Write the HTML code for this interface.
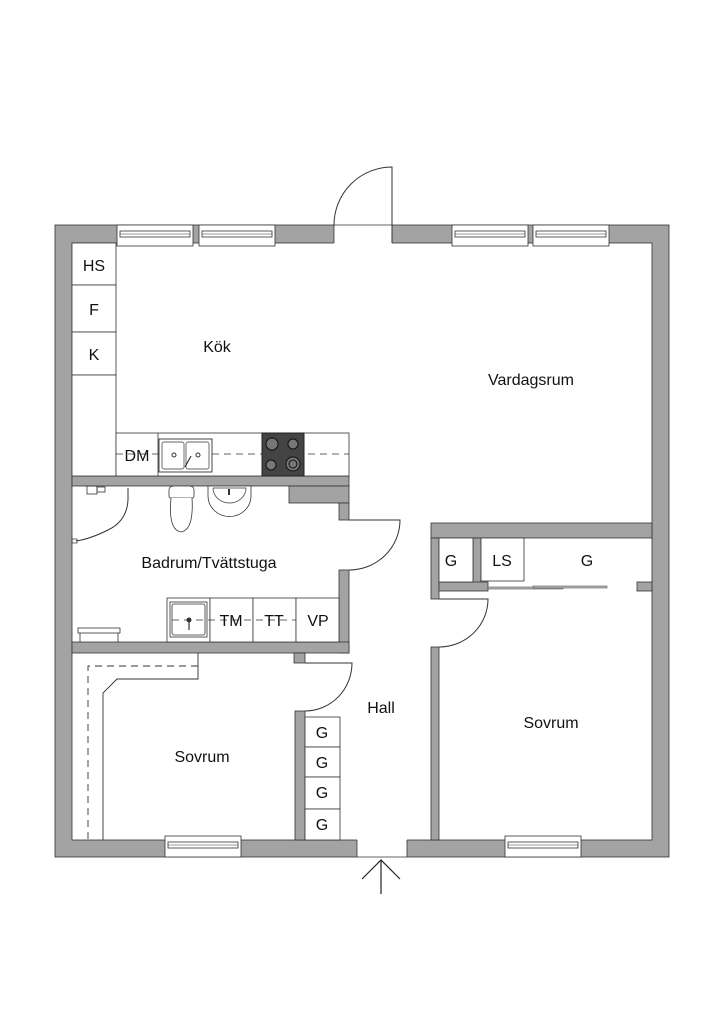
<!DOCTYPE html>
<html><head><meta charset="utf-8"><style>
html,body{margin:0;padding:0;background:#fff;}
svg{display:block;}
text{font-family:"Liberation Sans",sans-serif;fill:#111;}
</style></head><body>
<svg width="724" height="1024" viewBox="0 0 724 1024" xmlns="http://www.w3.org/2000/svg">
<defs>
<g id="win">
<rect x="0" y="0" width="76" height="21" fill="#fff" stroke="#333" stroke-width="0.8"/>
<rect x="3" y="6" width="70" height="6" fill="#fff" stroke="#333" stroke-width="0.8"/>
<line x1="3" y1="9" x2="73" y2="9" stroke="#333" stroke-width="0.6"/>
</g>
</defs>
<!-- outer walls -->
<rect x="55" y="225" width="614" height="632" fill="#a3a3a3" stroke="#333" stroke-width="0.8"/>
<rect x="72" y="243" width="580" height="597" fill="#fff" stroke="#333" stroke-width="0.8"/>
<!-- openings -->
<rect x="334" y="224" width="58" height="20" fill="#fff"/>
<line x1="334" y1="225" x2="392" y2="225" stroke="#333" stroke-width="0.8"/>
<line x1="334" y1="225" x2="334" y2="243" stroke="#333" stroke-width="0.8"/>
<line x1="392" y1="225" x2="392" y2="243" stroke="#333" stroke-width="0.8"/>
<rect x="357" y="839" width="50" height="19" fill="#fff"/>
<line x1="357" y1="857" x2="407" y2="857" stroke="#333" stroke-width="0.8"/>
<line x1="357" y1="840" x2="357" y2="857" stroke="#333" stroke-width="0.8"/>
<line x1="407" y1="840" x2="407" y2="857" stroke="#333" stroke-width="0.8"/>
<!-- entrance door -->
<path d="M392 243 L392 167 A58 58 0 0 0 334 225" fill="none" stroke="#333" stroke-width="1"/>
<!-- windows -->
<use href="#win" x="117" y="225"/>
<use href="#win" x="199" y="225"/>
<use href="#win" x="452" y="225"/>
<use href="#win" x="533" y="225"/>
<use href="#win" x="165" y="836"/>
<use href="#win" x="505" y="836"/>
<!-- interior walls -->
<g fill="#a3a3a3" stroke="#333" stroke-width="0.8">
<rect x="72" y="476" width="277" height="10"/>
<rect x="289" y="486" width="60" height="17"/>
<rect x="339" y="503" width="10" height="17"/>
<rect x="339" y="570" width="10" height="83"/>
<rect x="72" y="642" width="277" height="11"/>
<rect x="294" y="653" width="11" height="10"/>
<rect x="295" y="711" width="10" height="129"/>
<rect x="431" y="523" width="221" height="15"/>
<rect x="431" y="538" width="8" height="61"/>
<rect x="473" y="538" width="8" height="52"/>
<rect x="439" y="582" width="49" height="9"/>
<rect x="637" y="582" width="15" height="9"/>
<rect x="431" y="647" width="8" height="193"/>
</g>
<!-- kitchen storage column -->
<g fill="#fff" stroke="#333" stroke-width="0.8">
<rect x="72" y="243" width="44" height="42"/>
<rect x="72" y="285" width="44" height="47"/>
<rect x="72" y="332" width="44" height="43"/>
<rect x="72" y="375" width="44" height="101"/>
<rect x="116" y="433" width="233" height="43"/>
<line x1="158" y1="433" x2="158" y2="476"/>
</g>
<line x1="116" y1="454" x2="349" y2="454" stroke="#333" stroke-width="0.8" stroke-dasharray="7,5"/>
<!-- sink -->
<rect x="159" y="439" width="53" height="33" fill="#fff" stroke="#333" stroke-width="0.9"/>
<rect x="162" y="442" width="22" height="27" rx="2" fill="#fff" stroke="#333" stroke-width="0.7"/>
<rect x="186" y="442" width="23" height="27" rx="2" fill="#fff" stroke="#333" stroke-width="0.7"/>
<circle cx="174" cy="455" r="2" fill="none" stroke="#333"/>
<circle cx="198" cy="455" r="2" fill="none" stroke="#333"/>
<line x1="185" y1="467" x2="191" y2="456" stroke="#333" stroke-width="1.2"/>
<!-- stove -->
<rect x="262" y="433" width="42" height="43" fill="#444" stroke="#222"/>
<g fill="#777" stroke="#111" stroke-width="1">
<circle cx="272" cy="444" r="6"/><circle cx="293" cy="444" r="5"/>
<circle cx="271" cy="465" r="5"/><circle cx="293" cy="464" r="7"/>
</g>
<circle cx="293" cy="464" r="4" fill="none" stroke="#111"/>
<!-- bathroom fixtures -->
<path d="M169 490 Q169 486 174 486 L189 486 Q194 486 194 490 L194 496 Q194 498 192 498 L171 498 Q169 498 169 496 Z" fill="#fff" stroke="#333" stroke-width="0.8"/>
<path d="M171 498 Q168 530 181 532 Q194 530 192 498" fill="#fff" stroke="#333" stroke-width="0.8"/>
<path d="M208 486 L251 486 L251 496 A21 20 0 0 1 208 496 Z" fill="#fff" stroke="#333" stroke-width="0.8"/>
<path d="M213 488 L246 488 A16.5 15 0 0 1 213 488" fill="none" stroke="#333" stroke-width="0.7"/>
<rect x="228" y="489" width="2" height="6" fill="#333"/>
<path d="M128 488 L128 495 Q129 520 108 530 Q90 539 76 541" fill="none" stroke="#333" stroke-width="1"/>
<rect x="87" y="486" width="10" height="8" fill="none" stroke="#333" stroke-width="0.8"/>
<rect x="97" y="487" width="8" height="5" fill="none" stroke="#333" stroke-width="0.8"/>
<rect x="72" y="539" width="5" height="4" fill="none" stroke="#333" stroke-width="0.7"/>
<rect x="78" y="628" width="42" height="5" fill="#fff" stroke="#333" stroke-width="0.8"/>
<line x1="80" y1="633" x2="80" y2="642" stroke="#333" stroke-width="0.8"/>
<line x1="118" y1="633" x2="118" y2="642" stroke="#333" stroke-width="0.8"/>
<g fill="#fff" stroke="#333" stroke-width="0.8">
<rect x="167" y="598" width="43" height="44"/>
<rect x="210" y="598" width="43" height="44"/>
<rect x="253" y="598" width="43" height="44"/>
<rect x="296" y="598" width="43" height="44"/>
<rect x="170" y="602" width="37" height="35"/>
<rect x="172" y="604" width="33" height="31" rx="2"/>
</g>
<line x1="172" y1="620" x2="296" y2="620" stroke="#333" stroke-width="0.8" stroke-dasharray="7,5"/>
<circle cx="189" cy="620" r="2.5" fill="#333"/>
<line x1="189" y1="620" x2="189" y2="630" stroke="#333" stroke-width="1.2"/>
<!-- doors -->
<g fill="none" stroke="#333" stroke-width="1">
<path d="M349 520 L400 520 A51 50 0 0 1 349 570"/>
<path d="M305 663 L352 663 A47 48 0 0 1 305 711"/>
<path d="M439 599 L488 599 A49 48 0 0 1 439 647"/>
</g>
<!-- hall closets -->
<g fill="#fff" stroke="#333" stroke-width="0.8">
<rect x="305" y="717" width="35" height="30"/>
<rect x="305" y="747" width="35" height="30"/>
<rect x="305" y="777" width="35" height="32"/>
<rect x="305" y="809" width="35" height="31"/>
<rect x="439" y="538" width="34" height="44"/>
<rect x="481" y="538" width="43" height="43"/>
</g>
<!-- sliding doors -->
<rect x="488" y="587" width="75" height="2" fill="#bbb" stroke="#555" stroke-width="0.6"/>
<rect x="533" y="586" width="74" height="2" fill="#bbb" stroke="#555" stroke-width="0.6"/>
<!-- left bedroom wardrobe -->
<path d="M198 653 L198 679 L117 679 L103 693 L103 840" fill="none" stroke="#333" stroke-width="0.9"/>
<path d="M198 666 L88 666 L88 840" fill="none" stroke="#333" stroke-width="0.9" stroke-dasharray="7,5"/>
<!-- entrance arrow -->
<g stroke="#222" stroke-width="1.2" fill="none">
<line x1="381" y1="861" x2="381" y2="894"/>
<polyline points="362,879 381,860 400,879"/>
</g>
<!-- labels -->
<g font-size="16">
<text x="94" y="271" text-anchor="middle">HS</text>
<text x="94" y="315" text-anchor="middle">F</text>
<text x="94" y="360" text-anchor="middle">K</text>
<text x="137" y="461" text-anchor="middle">DM</text>
<text x="231" y="626" text-anchor="middle">TM</text>
<text x="274" y="626" text-anchor="middle">TT</text>
<text x="318" y="626" text-anchor="middle">VP</text>
<text x="322" y="738" text-anchor="middle">G</text>
<text x="322" y="768" text-anchor="middle">G</text>
<text x="322" y="798" text-anchor="middle">G</text>
<text x="322" y="830" text-anchor="middle">G</text>
<text x="451" y="566" text-anchor="middle">G</text>
<text x="502" y="566" text-anchor="middle">LS</text>
<text x="587" y="566" text-anchor="middle">G</text>
<text x="217" y="352" text-anchor="middle">Kök</text>
<text x="531" y="385" text-anchor="middle">Vardagsrum</text>
<text x="209" y="568" text-anchor="middle">Badrum/Tvättstuga</text>
<text x="381" y="713" text-anchor="middle">Hall</text>
<text x="202" y="762" text-anchor="middle">Sovrum</text>
<text x="551" y="728" text-anchor="middle">Sovrum</text>
</g>
</svg>
</body></html>
